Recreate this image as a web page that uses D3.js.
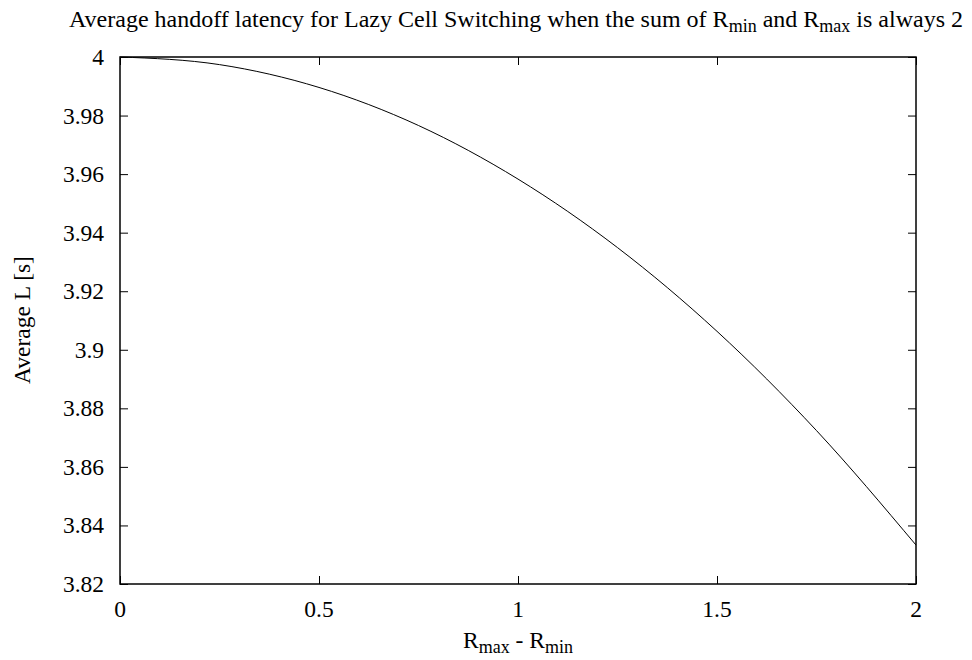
<!DOCTYPE html>
<html>
<head>
<meta charset="utf-8">
<script src="https://cdn.jsdelivr.net/npm/d3@7"></script>
<style>
  body { margin: 0; background: #fff; }
</style>
</head>
<body>
<div id="chart"></div>
<script>
// values
const diffValues = [0, 0.25, 0.5, 0.75, 1, 1.25, 1.5, 1.75, 2];
const latencyValues = [4.0, 3.9974, 3.9896, 3.9766, 3.9583, 3.9349, 3.9063, 3.8724, 3.8333];
const xTicks = [0, 0.5, 1, 1.5, 2];
const yTicks = [3.82, 3.84, 3.86, 3.88, 3.9, 3.92, 3.94, 3.96, 3.98, 4];

const w = 972;
const h = 660;
const margin = { left: 120, right: 56, top: 57, bottom: 76 };
const font = "'Liberation Serif', 'Times New Roman', 'DejaVu Serif', serif";

const x = d3.scaleLinear().domain([0, 2]).range([margin.left, w - margin.right]);
const y = d3.scaleLinear().domain([3.82, 4]).range([h - margin.bottom, margin.top]);

const svg = d3.select("#chart").append("svg")
  .attr("width", w)
  .attr("height", h)
  .attr("font-family", font);

const tickLen = 8;

// axes with inward ticks, mirrored on top/right
svg.append("g")
  .attr("transform", `translate(0,${h - margin.bottom})`)
  .call(d3.axisTop(x).tickValues(xTicks).tickSize(tickLen).tickFormat(""))
  .call(g => g.select(".domain").remove());
svg.append("g")
  .attr("transform", `translate(0,${margin.top})`)
  .call(d3.axisBottom(x).tickValues(xTicks).tickSize(tickLen).tickFormat(""))
  .call(g => g.select(".domain").remove());
svg.append("g")
  .attr("transform", `translate(${margin.left},0)`)
  .call(d3.axisRight(y).tickValues(yTicks).tickSize(tickLen).tickFormat(""))
  .call(g => g.select(".domain").remove());
svg.append("g")
  .attr("transform", `translate(${w - margin.right},0)`)
  .call(d3.axisLeft(y).tickValues(yTicks).tickSize(tickLen).tickFormat(""))
  .call(g => g.select(".domain").remove());

svg.selectAll(".tick line").attr("stroke", "#000").attr("stroke-width", 1);

// tick labels
svg.append("g").selectAll("text")
  .data(xTicks)
  .enter()
  .append("text")
  .attr("x", d => x(d))
  .attr("y", 617)
  .attr("text-anchor", "middle")
  .attr("font-family", font)
  .style("font-size", "23.5px")
  .text(d => d);

svg.append("g").selectAll("text")
  .data(yTicks)
  .enter()
  .append("text")
  .attr("x", 104)
  .attr("y", d => y(d) + 8)
  .attr("text-anchor", "end")
  .attr("font-family", font)
  .style("font-size", "23.5px")
  .text(d => d3.format("")(d));

// frame
svg.append("rect")
  .attr("x", margin.left)
  .attr("y", margin.top)
  .attr("width", w - margin.left - margin.right)
  .attr("height", h - margin.top - margin.bottom)
  .attr("fill", "none")
  .attr("stroke", "#000")
  .attr("stroke-width", 1.5);

// curve
const line = d3.line()
  .x((d, i) => x(diffValues[i]))
  .y(d => y(d))
  .curve(d3.curveMonotoneX);

svg.append("path")
  .datum(latencyValues)
  .attr("d", line)
  .attr("fill", "none")
  .attr("stroke", "#000")
  .attr("stroke-width", 1);

// text with subscripts: parts are [text, isSub]
function subText(sel, parts, subSize) {
  parts.forEach(([t, sub], i) => {
    const prevSub = i > 0 && parts[i - 1][1];
    const ts = sel.append("tspan").text(t);
    if (sub) ts.attr("dy", 5).style("font-size", subSize);
    else if (prevSub) ts.attr("dy", -5);
  });
}

// title
const title = svg.append("text")
  .attr("x", 516)
  .attr("y", 27)
  .attr("text-anchor", "middle")
  .attr("font-family", font)
  .style("font-size", "24px");
subText(title, [
  ["Average handoff latency for Lazy Cell Switching when the sum of R", false],
  ["min", true], [" and R", false], ["max", true], [" is always 2", false]
], "18px");

// x label
const xl = svg.append("text")
  .attr("x", x(1))
  .attr("y", 648)
  .attr("text-anchor", "middle")
  .attr("font-family", font)
  .style("font-size", "23.5px");
subText(xl, [["R", false], ["max", true], [" - R", false], ["min", true]], "18px");

// y label
svg.append("text")
  .attr("transform", `translate(30,320) rotate(-90)`)
  .attr("text-anchor", "middle")
  .attr("font-family", font)
  .style("font-size", "23.5px")
  .text("Average L [s]");
</script>
</body>
</html>
